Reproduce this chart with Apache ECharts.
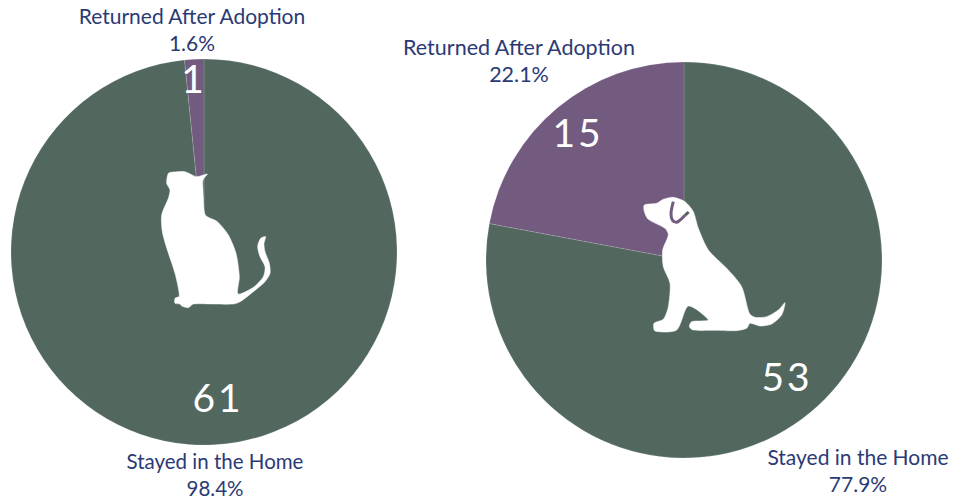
<!DOCTYPE html>
<html><head><meta charset="utf-8">
<style>html,body{margin:0;padding:0;background:#fff}#c{width:963px;height:504px}
#c text[fill="#fff"],#c text[fill="#ffffff"]{letter-spacing:3px}</style>
<script src="https://cdn.jsdelivr.net/npm/echarts@6/dist/echarts.min.js"></script></head><body><div id="c"></div>
<script>
const categories = ['Stayed in the Home', 'Returned After Adoption'];
const catCounts = [61, 1];
const dogCounts = [53, 15];
const catPercents = ['98.4%', '1.6%'];
const dogPercents = ['77.9%', '22.1%'];
const GREEN = '#52685f', PURPLE = '#735b80', NAVY = '#2b3a75';

const catShape = [[232,372],[222,385],[218,395],[219,420],[220,440],[226,495],[262,515],[295,555],[318,610],[328,680],[324,732],[370,712],[400,680],[405,650],[390,620],[383,590],[392,565],[407,560],[402,580],[405,605],[418,640],[420,670],[405,695],[370,725],[320,760],[255,762],[190,762],[175,773],[155,768],[150,762],[135,760],[135,745],[148,738],[135,670],[112,600],[97,545],[95,495],[115,445],[120,420],[110,400],[115,370],[130,366],[165,365],[200,380]];
const dogShape = [[43,75],[80,70],[100,58],[130,52],[165,65],[190,95],[205,145],[235,210],[290,265],[335,320],[358,400],[375,412],[410,410],[445,390],[465,368],[455,405],[425,432],[390,438],[360,430],[350,445],[320,452],[255,451],[190,450],[178,440],[185,425],[235,420],[175,378],[140,450],[75,453],[72,430],[100,418],[115,380],[120,310],[100,260],[98,210],[115,165],[105,145],[55,118],[43,95]];
const dogEar = [[130,65],[123,100],[128,122],[142,126],[165,106]];
const dogEarTip = [[165,106],[176,96]];
const scaled = (pts, ox, oy) => pts.map(p => [ox + p[0] / 3, oy + p[1] / 3]);

function pie(center, R, counts, pcts, outer, inner, sizes) {
  const data = categories.map((n, i) => ({ name: n, value: counts[i], pct: pcts[i],
    itemStyle: { color: i ? PURPLE : GREEN }, label: { fontSize: sizes[i] } }));
  return [{
    type: 'pie', center, radius: [0, R], startAngle: 90, clockwise: true, silent: true,
    animation: false, avoidLabelOverlap: false, data,
    itemStyle: { borderColor: 'rgba(255,255,255,0.25)', borderWidth: 0.5 },
    label: { show: true, position: 'outside', color: NAVY, fontFamily: 'Lato', fontSize: 21, lineHeight: 27,
      align: 'center', formatter: p => p.name + '\n' + p.data.pct },
    labelLine: { show: false },
    labelLayout: p => ({ x: outer[p.dataIndex][0], y: outer[p.dataIndex][1], align: 'center', verticalAlign: 'middle' })
  }, {
    type: 'pie', center, radius: [0, R], startAngle: 90, clockwise: true, silent: true,
    animation: false, avoidLabelOverlap: false, data: data.map(d => ({ name: d.name, value: d.value })),
    itemStyle: { color: 'rgba(0,0,0,0)' },
    label: { show: true, position: 'inside', color: '#fff', fontFamily: 'Lato', fontSize: 39,
      formatter: p => String(p.value) },
    labelLine: { show: false },
    labelLayout: p => ({ x: inner[p.dataIndex][0], y: inner[p.dataIndex][1], align: 'center', verticalAlign: 'middle' })
  }];
}

const chart = echarts.init(document.getElementById('c'), null, { renderer: 'svg' });
chart.setOption({
  animation: false,
  backgroundColor: '#fff',
  series: [
    ...pie([204, 252], 193, catCounts, catPercents, [[215, 474], [192, 29]], [[218, 397], [194, 78]], [20.5, 21]),
    ...pie([684, 260], 198, dogCounts, dogPercents, [[858, 470], [519, 60]], [[787, 376], [578, 132]], [21, 21.5])
  ],
  graphic: [
    { type: 'polygon', z: 100, shape: { points: scaled(catShape, 130, 50), smooth: 0.25 }, style: { fill: '#fff', stroke: '#fff', lineWidth: 0.5 } },
    { type: 'polygon', z: 100, shape: { points: scaled(dogShape, 630, 180), smooth: 0.25 }, style: { fill: '#fff', stroke: '#fff', lineWidth: 0.5 } },
    { type: 'polyline', z: 101, shape: { points: scaled(dogEar, 630, 180), smooth: 0.3 }, style: { fill: null, stroke: PURPLE, lineWidth: 3 } },
    { type: 'polyline', z: 101, shape: { points: scaled(dogEarTip, 630, 180) }, style: { fill: null, stroke: GREEN, lineWidth: 3 } }
  ]
});
</script></body></html>
